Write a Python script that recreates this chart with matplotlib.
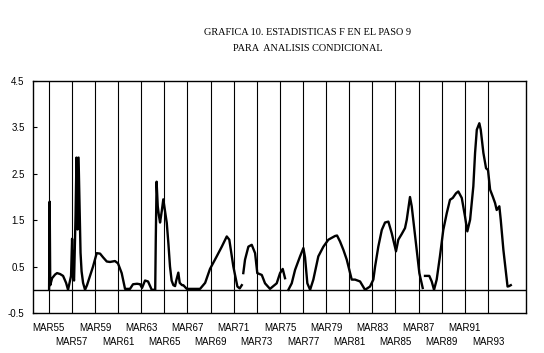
import numpy as np
import matplotlib.pyplot as plt

# estadistica F (paso 9); nan = hueco en la serie
fecha = [1955.20, 1955.25, 1955.30, 1955.46, 1955.72, 1955.89, 1956.15, 1956.41, 1956.67, 1956.84,
         1957.10, 1957.19, 1957.27, 1957.36, 1957.49, 1957.57, 1957.66, 1957.75, 1957.83, 1957.92,
         1958.01, 1958.14, 1958.31, 1958.48, 1958.74, 1959.00, 1959.32, 1959.61, 1959.87, 1960.19,
         1960.47, 1960.90, 1961.16, 1961.48, 1961.77, 1962.20, 1962.46, 1962.81, 1963.07, 1963.24,
         1963.50, 1963.76, 1964.08, 1964.28, 1964.38, 1964.43, 1964.50, 1964.60, 1964.70, 1964.80,
         1964.95, 1965.08, 1965.20, 1965.38, 1965.52, 1965.66, 1965.80, 1965.95, 1966.10, 1966.20,
         1966.38, 1966.50, 1966.70, 1966.81, 1967.11, 1968.26, 1968.70, 1969.12, 1969.70, 1970.14,
         1970.57, 1970.79, 1971.14, 1971.49, 1971.69, 1971.87, 1971.93, 1972.00, 1972.15, 1972.44,
         1972.73, 1973.02, 1973.21, 1973.60, 1973.88, 1974.31, 1974.89, 1975.18, 1975.41, 1975.61,
         1975.75, 1975.90, 1976.19, 1976.48, 1976.91, 1977.20, 1977.34, 1977.54, 1977.78, 1978.06,
         1978.49, 1978.93, 1979.36, 1979.94, 1980.11, 1980.37, 1980.66, 1980.95, 1981.17, 1981.38,
         1981.67, 1982.10, 1982.53, 1982.96, 1983.25, 1983.40, 1983.68, 1983.98, 1984.26, 1984.55,
         1984.84, 1985.21, 1985.41, 1985.70, 1985.99, 1986.14, 1986.42, 1986.57, 1986.77, 1987.00,
         1987.23, 1987.52, 1987.62, 1987.72, 1988.09, 1988.30, 1988.50, 1988.73, 1989.01, 1989.30,
         1989.60, 1989.88, 1990.12, 1990.40, 1990.60, 1990.90, 1991.18, 1991.38, 1991.62, 1991.90,
         1992.05, 1992.20, 1992.42, 1992.54, 1992.77, 1993.00, 1993.17, 1993.35, 1993.58, 1993.78,
         1993.92, 1994.15, 1994.27, 1994.50, 1994.73, 1994.86, 1995.00, 1995.14]
fval = [0.00, 1.90, 0.10, 0.25, 0.33, 0.36, 0.34, 0.30, 0.15, 0.00,
        0.30, 1.10, 0.30, 0.20, 1.60, 2.85, 1.30, 2.85, 1.90, 0.80,
        0.40, 0.15, 0.00, 0.10, 0.30, 0.50, 0.79, 0.78, 0.70, 0.61,
        0.60, 0.62, 0.57, 0.36, 0.02, 0.02, 0.12, 0.13, 0.12, 0.04,
        0.20, 0.18, 0.00, 0.00, 0.00, 1.10, 2.33, 1.80, 1.60, 1.45,
        1.70, 1.95, 1.75, 1.44, 1.00, 0.50, 0.20, 0.10, 0.08, 0.20,
        0.37, 0.15, 0.10, 0.10, 0.02, 0.02, 0.15, 0.45, 0.72, 0.93,
        1.15, 1.08, 0.50, 0.07, 0.03, 0.10, np.nan, 0.36, 0.65, 0.93,
        0.97, 0.79, 0.36, 0.32, 0.14, 0.02, 0.14, 0.36, 0.45, 0.25,
        np.nan, 0.00, 0.14, 0.43, 0.72, 0.90, 0.70, 0.14, 0.00, 0.22,
        0.72, 0.93, 1.08, 1.16, 1.17, 1.04, 0.86, 0.65, 0.43, 0.22,
        0.22, 0.18, 0.00, 0.07, 0.22, 0.50, 0.93, 1.29, 1.45, 1.47,
        1.22, 0.83, 1.08, 1.20, 1.33, 1.51, 2.00, 1.80, 1.36, 0.86,
        0.36, 0.04, np.nan, 0.30, 0.30, 0.18, 0.00, 0.22, 0.72, 1.29,
        1.65, 1.94, 1.98, 2.08, 2.12, 1.98, 1.58, 1.26, 1.51, 2.23,
        2.95, 3.45, 3.59, 3.45, 2.95, 2.62, 2.58, 2.16, 2.01, 1.87,
        1.72, 1.80, 1.51, 0.86, 0.36, 0.07, 0.08, 0.10]

anios_fila1 = [55, 59, 63, 67, 71, 75, 79, 83, 87, 91]
anios_fila2 = [57, 61, 65, 69, 73, 77, 81, 85, 89, 93]
yticks = [-0.5, 0.5, 1.5, 2.5, 3.5, 4.5]


def marzo(a):
    return 1900 + a + 2 / 12


fig = plt.figure(figsize=(5.44, 3.53), dpi=100)
ax = fig.add_axes([0.0607, 0.1133, 0.9063, 0.6572])

ax.plot(fecha, fval, color='black', lw=1.7, solid_joinstyle='round')
ax.axhline(0, color='black', lw=1.0)
for a in anios_fila1 + anios_fila2:
    ax.axvline(marzo(a), color='black', lw=0.8)

ax.set_xlim(1953.81, 1996.46)
ax.set_ylim(-0.5, 4.5)

# etiquetas del eje x en dos filas alternadas
ax.set_xticks([marzo(a) for a in anios_fila1])
ax.set_xticklabels(['MAR%d' % a for a in anios_fila1], family='Liberation Sans', fontsize=7)
ax.set_xticks([marzo(a) for a in anios_fila2], minor=True)
ax.set_xticklabels(['MAR%d' % a for a in anios_fila2], minor=True,
                   family='Liberation Sans', fontsize=7)
ax.tick_params(axis='x', which='major', length=0, pad=7.5)
ax.tick_params(axis='x', which='minor', length=0, pad=17)

ax.set_yticks(yticks)
ax.set_yticklabels(['%.1f' % v for v in yticks], family='Liberation Sans', fontsize=7)
ax.tick_params(axis='y', direction='in', length=3, pad=6)
for s in ax.spines.values():
    s.set_linewidth(1.0)

fig.text(0.566, 0.907, 'GRAFICA 10. ESTADISTICAS F EN EL PASO 9', ha='center', va='center',
         family='Liberation Serif', fontsize=7.4)
fig.text(0.566, 0.863, 'PARA  ANALISIS CONDICIONAL', ha='center', va='center',
         family='Liberation Serif', fontsize=7.4)

plt.savefig('out.png', dpi=100)
